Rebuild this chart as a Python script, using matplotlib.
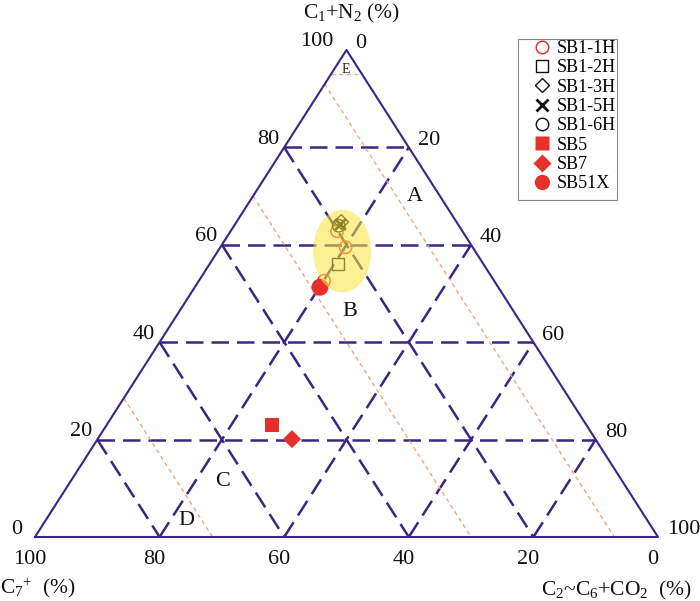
import matplotlib
matplotlib.use("Agg")
import matplotlib.pyplot as plt
from matplotlib.patches import Ellipse, Rectangle
from matplotlib.lines import Line2D
import numpy as np

plt.rcParams['font.family'] = ['Liberation Serif', 'DejaVu Serif']
plt.rcParams['mathtext.fontset'] = 'custom'
plt.rcParams['mathtext.rm'] = 'Liberation Serif'
plt.rcParams['mathtext.it'] = 'Liberation Serif:italic'

# --- data: C1+N2 (%) and C2~C6+CO2 (%), C7+ is the rest ---
samples = ['SB1-1H', 'SB1-2H', 'SB1-3H', 'SB1-5H', 'SB1-6H', 'SB5', 'SB7', 'SB51X']
c1_n2 = {
    'SB1-1H': [52.6, 59.5, 62.8],
    'SB1-2H': [56.1],
    'SB1-3H': [64.7],
    'SB1-5H': [64.3],
    'SB1-6H': [63.9],
    'SB5': [23.0],
    'SB7': [20.1],
    'SB51X': [51.3],
}
c2_c6_co2 = {
    'SB1-1H': [20.1, 20.1, 17.1],
    'SB1-2H': [20.6],
    'SB1-3H': [16.8],
    'SB1-5H': [16.8],
    'SB1-6H': [16.8],
    'SB5': [26.5],
    'SB7': [31.2],
    'SB51X': [20.1],
}

grid_vals = [20, 40, 60, 80]
tick_vals = [0, 20, 40, 60, 80, 100]
zone_c7 = [7, 30, 71.5]      # orange zone boundaries (constant C7+)
zone_c1 = 95                 # E zone boundary (constant C1+N2)
zone_labels = ['A', 'B', 'C', 'D']
zone_pos_c1 = [70.0, 46.4, 11.3, 3.3]
zone_pos_c2 = [26.0, 27.4, 24.4, 22.6]

PURPLE = '#3b2585'
RED = '#e8302a'
ORANGE = '#f4a47f'


def tern(c1, c2):
    c1 = np.asarray(c1, float)
    c2 = np.asarray(c2, float)
    return c2 + c1 / 2.0, c1


fig = plt.figure(figsize=(7.0, 6.01), dpi=100)
ax = fig.add_axes([35 / 700, 64 / 601, 623 / 700, 487 / 601])
ax.set_xlim(0, 100)
ax.set_ylim(0, 100)
ax.axis('off')

# triangle outline
tx, ty = tern([0, 100, 0, 0], [0, 0, 100, 0])
ax.plot(tx, ty, color=PURPLE, lw=1.5, clip_on=False, zorder=3)

# dashed grid
dash = (0, (7, 3.2))
for v in grid_vals:
    # constant C1
    x, y = tern([v, v], [0, 100 - v])
    ax.plot(x, y, color=PURPLE, lw=1.8, ls=dash, zorder=2)
    # constant C2
    x, y = tern([0, 100 - v], [v, v])
    ax.plot(x, y, color=PURPLE, lw=1.8, ls=dash, zorder=2)
    # constant C7
    x, y = tern([100 - v, 0], [0, 100 - v])
    ax.plot(x, y, color=PURPLE, lw=1.8, ls=dash, zorder=2)

# orange zone boundaries
for v in zone_c7:
    x, y = tern([100 - v, 0], [0, 100 - v])
    ax.plot(x, y, color=ORANGE, lw=1.0, ls=(0, (3, 2.5)), zorder=2)
x, y = tern([zone_c1, zone_c1], [0, 100 - zone_c1])
ax.plot(x, y, color=ORANGE, lw=1.0, ls=(0, (3, 2.5)), zorder=2)

# zone labels
for lab, a, b in zip(zone_labels, zone_pos_c1, zone_pos_c2):
    x, y = tern(a, b)
    ax.text(x, y, lab, fontsize=16, ha='center', va='center', color='#111')
x, y = tern(95.9, 2.0)
ax.text(x, y, 'E', fontsize=10, ha='center', va='center', color='#222')

# tick labels
for v in tick_vals:
    # left edge: C1+N2
    x, y = tern(v, 0)
    dx = -13 if v in (0, 100) else -5
    ax.annotate(str(v), (x, y), xytext=(dx, 8), textcoords='offset pixels',
                ha='right', va='center', fontsize=16, color='#111',
                annotation_clip=False)
    # right edge: C2~C6+CO2
    x, y = tern(100 - v, v)
    ax.annotate(str(v), (x, y), xytext=(9, 7), textcoords='offset pixels',
                ha='left', va='center', fontsize=16, color='#111',
                annotation_clip=False)
    # bottom: C7+
    x, y = tern(0, 100 - v)
    ax.annotate(str(v), (x, y), xytext=(-5, -23), textcoords='offset pixels',
                ha='center', va='center', fontsize=16, color='#111',
                annotation_clip=False)

fig.text(352 / 700, 1 - 13 / 601, r'C$_{\mathrm{1}}$+N$_{\mathrm{2}}$ (%)',
         ha='center', va='center', fontsize=15.5, color='#111')
fig.text(0 / 700, 1 - 588 / 601, r'C$_{\mathrm{7}}$$^{\mathrm{+}}$  (%)',
         ha='left', va='center', fontsize=15.5, color='#111')
fig.text(692 / 700, 1 - 590 / 601,
         r'C$_{\mathrm{2}}$~C$_{\mathrm{6}}$+CO$_{\mathrm{2}}$  (%)',
         ha='right', va='center', fontsize=15.5, color='#111')

# sample markers
styles = {
    'SB1-1H': dict(marker='o', s=80, facecolors='none', edgecolors=RED, linewidths=1.1),
    'SB1-2H': dict(marker='s', s=80, facecolors='none', edgecolors='#111', linewidths=1.0),
    'SB1-3H': dict(marker='D', s=55, facecolors='none', edgecolors='#111', linewidths=1.0),
    'SB1-5H': dict(marker='x', s=60, c='#111', linewidths=2.0),
    'SB1-6H': dict(marker='o', s=80, facecolors='none', edgecolors='#111', linewidths=1.0),
    'SB5': dict(marker='s', s=95, c=RED, edgecolors='none'),
    'SB7': dict(marker='D', s=85, c=RED, edgecolors='none'),
    'SB51X': dict(marker='o', s=150, c=RED, edgecolors='none'),
}
for name in samples:
    x, y = tern(c1_n2[name], c2_c6_co2[name])
    ax.scatter(x, y, zorder=4, label=name, **styles[name])

# highlighted cluster
ex, ey = tern(58.7, 19.95)
ax.add_patch(Ellipse((ex, ey), 9.3, 17.0, facecolor='#f9e73c', edgecolor='none',
                     alpha=0.55, zorder=5))

# legend (frame drawn separately so the markers sit where they do in the source)
handles = [
    Line2D([], [], ls='none', marker='o', ms=9, mfc='none', mec=RED, mew=1.1),
    Line2D([], [], ls='none', marker='s', ms=9, mfc='none', mec='#111', mew=1.0),
    Line2D([], [], ls='none', marker='D', ms=7.5, mfc='none', mec='#111', mew=1.0),
    Line2D([], [], ls='none', marker='x', ms=8, mec='#111', mew=2.0),
    Line2D([], [], ls='none', marker='o', ms=9, mfc='none', mec='#111', mew=1.0),
    Line2D([], [], ls='none', marker='s', ms=10, mfc=RED, mec='none'),
    Line2D([], [], ls='none', marker='D', ms=9, mfc=RED, mec='none'),
    Line2D([], [], ls='none', marker='o', ms=11, mfc=RED, mec='none'),
]
fig.legend(handles, samples, loc='upper left',
           bbox_to_anchor=(533 / 700, 1 - 40 / 601), fontsize=13,
           frameon=False, handlelength=1.0, handletextpad=0.3,
           labelspacing=0.13, borderpad=0, borderaxespad=0)
fig.add_artist(Rectangle((518 / 700, 1 - 200 / 601), 99 / 700, 161 / 601,
                         transform=fig.transFigure, facecolor='none',
                         edgecolor='#888', lw=0.8))

fig.savefig('out.png', dpi=100)
